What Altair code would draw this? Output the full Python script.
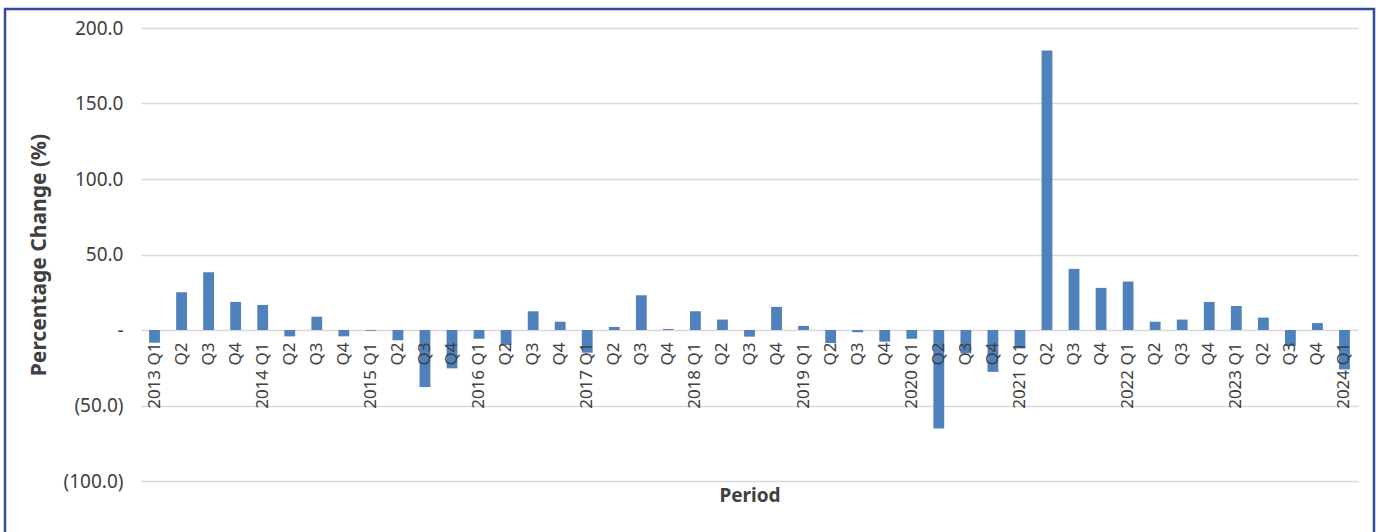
import altair as alt
import pandas as pd

years = ["2013"] * 4 + ["2014"] * 4 + ["2015"] * 4 + ["2016"] * 4 + ["2017"] * 4 + \
        ["2018"] * 4 + ["2019"] * 4 + ["2020"] * 4 + ["2021"] * 4 + ["2022"] * 4 + \
        ["2023"] * 4 + ["2024"]
quarters = ["Q1", "Q2", "Q3", "Q4"] * 11 + ["Q1"]
values = [
    -8.4, 25.0, 38.3, 18.6,    # 2013
    16.6, -4.2, 8.8, -4.2,     # 2014
    -0.5, -6.8, -37.8, -25.4,  # 2015
    -5.8, -10.0, 12.4, 5.5,    # 2016
    -15.0, 2.0, 23.0, 0.7,     # 2017
    12.4, 6.9, -4.4, 15.3,     # 2018
    2.7, -8.6, -1.5, -7.7,     # 2019
    -5.8, -65.2, -15.5, -27.7, # 2020
    -12.2, 185.1, 40.5, 27.9,  # 2021
    32.1, 5.5, 6.9, 18.6,      # 2022
    15.9, 8.2, -10.6, 4.6,     # 2023
    -26.1,                     # 2024
]

periods = [f"{y} {q}" for y, q in zip(years, quarters)]
df = pd.DataFrame({"period": periods, "value": values})

FONT = "Noto Sans"
TXT = "#404040"

bars = alt.Chart(df).mark_bar(color="#4F81BD").encode(
    x=alt.X(
        "period:O",
        sort=periods,
        scale=alt.Scale(paddingInner=0.6, paddingOuter=0.3),
        axis=alt.Axis(
            title="Period",
            labelAngle=-90,
            labelExpr="indexof(datum.value, 'Q1') >= 0 ? datum.value : substring(datum.value, 5)",
            offset=-151,
            ticks=False,
            domain=False,
            grid=False,
            labelPadding=12,
            labelFont=FONT,
            labelFontSize=17,
            labelColor=TXT,
            titleFont=FONT,
            titleFontSize=19,
            titleFontWeight="bold",
            titleColor=TXT,
            titleY=156,
            titleBaseline="top",
            zindex=1,
        ),
    ),
    y=alt.Y(
        "value:Q",
        scale=alt.Scale(domain=[-100, 200], nice=False),
        axis=alt.Axis(
            title="Percentage Change (%)",
            values=[-100, -50, 0, 50, 100, 150, 200],
            labelExpr="datum.value == 0 ? '-\u00a0\u00a0\u00a0' : (datum.value < 0 ? '(' + format(-datum.value, '.1f') + ')' : format(datum.value, '.1f') + '\u00a0')",
            ticks=False,
            domain=False,
            gridColor="#d9d9d9",
            gridWidth=1.5,
            labelPadding=18,
            labelFont=FONT,
            labelFontSize=19,
            labelColor=TXT,
            titleFont=FONT,
            titleFontSize=21,
            titleFontWeight="bold",
            titleColor=TXT,
            titleX=-96,
            titleBaseline="alphabetic",
        ),
    ),
)

frame = alt.Chart(pd.DataFrame({"a": [0]})).mark_rect(
    filled=False, stroke="#2F4A9E", strokeWidth=2.5
).encode(
    x=alt.value(-136), x2=alt.value(1233), y=alt.value(-19), y2=alt.value(530)
)

chart = alt.layer(bars, frame).properties(
    width=1217,
    height=453,
    autosize=alt.AutoSizeParams(type="none"),
    padding={"left": 141, "top": 28, "right": 23, "bottom": 51},
    background="white",
).configure_view(stroke=None)

chart.save("out.html", embed_options={"renderer": "svg", "actions": False})
